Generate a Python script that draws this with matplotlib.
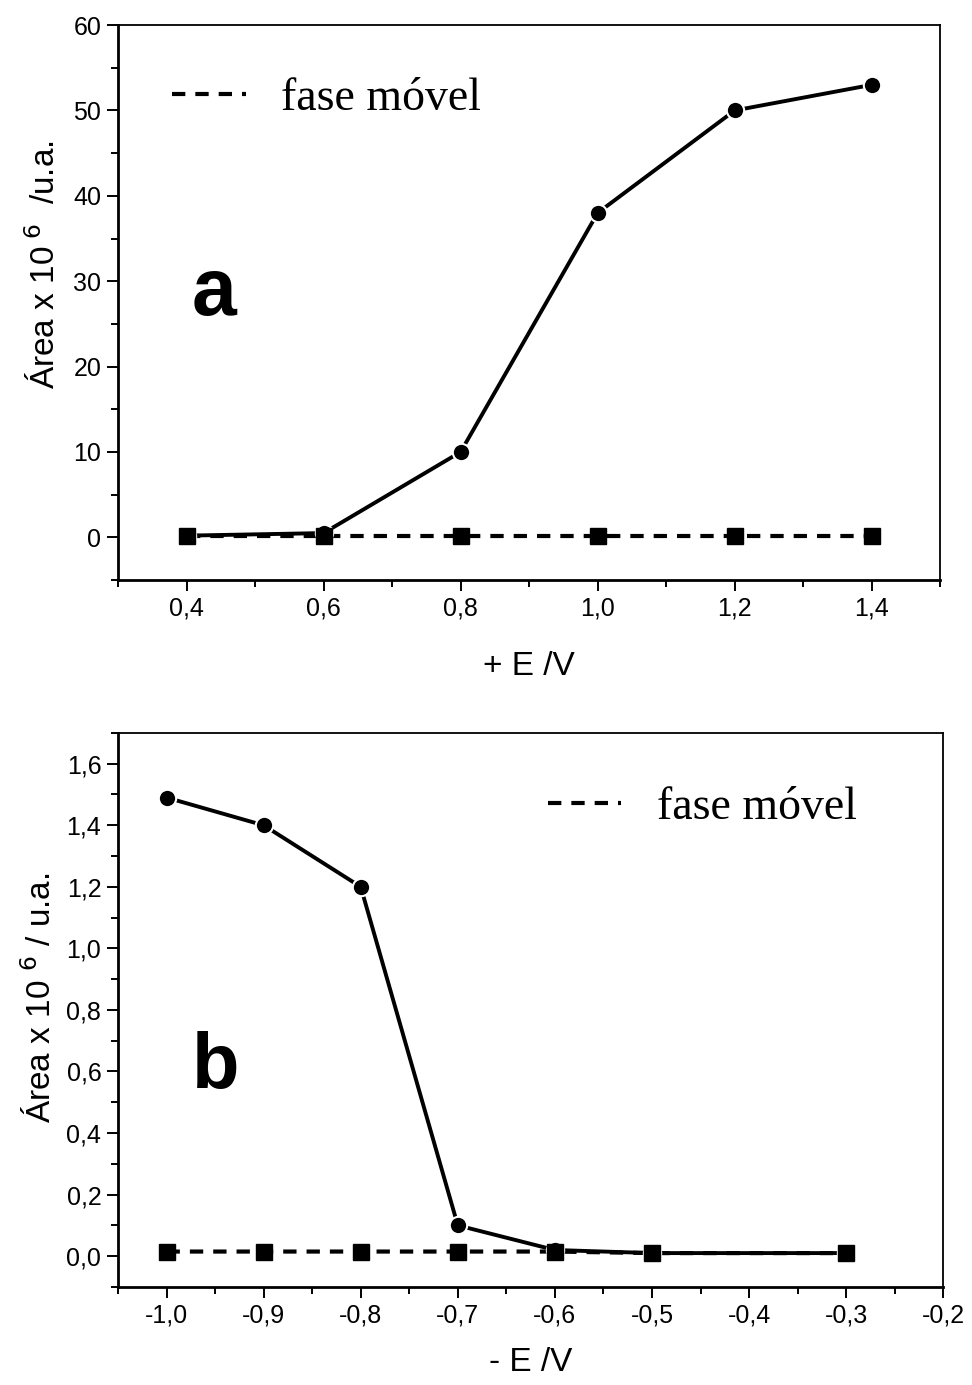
import matplotlib.pyplot as plt
from matplotlib.lines import Line2D
from matplotlib.ticker import MultipleLocator, FuncFormatter

plt.rcParams['font.family'] = ['Liberation Sans', 'DejaVu Sans']

# (a) oxidation potentials
e_pos = [0.4, 0.6, 0.8, 1.0, 1.2, 1.4]
area_pos = [0.2, 0.5, 10.0, 38.0, 50.0, 53.0]
blank_pos = [0.1, 0.1, 0.1, 0.1, 0.1, 0.1]

# (b) reduction potentials
e_neg = [-1.0, -0.9, -0.8, -0.7, -0.6, -0.5, -0.3]
area_neg = [1.49, 1.40, 1.20, 0.10, 0.02, 0.01, 0.01]
blank_neg = [0.015, 0.015, 0.015, 0.015, 0.015, 0.01, 0.01]

DASH = (3.2, 2.4)


def comma(fmt):
    return FuncFormatter(lambda v, pos: fmt.format(v).replace('.', ','))


def style_axes(ax):
    for side in ['left', 'bottom']:
        ax.spines[side].set_linewidth(2.0)
    for side in ['top', 'right']:
        ax.spines[side].set_linewidth(1.3)
    ax.tick_params(which='major', direction='out', length=8, width=1.4,
                   labelsize=18, pad=4)
    ax.tick_params(which='minor', direction='out', length=5, width=1.4)


def draw(ax, x, y, blank, leg_pos):
    # dashed blank line under the sample curve, its squares on top
    ax.plot(x, blank, color='black', lw=3, dashes=DASH, zorder=2)
    ax.plot(x, y, color='black', lw=2.8, marker='o', ms=12.5,
            mfc='black', mec='white', mew=1.5, zorder=3)
    ax.plot(x, blank, ls='none', marker='s', ms=11, mfc='black',
            mec='black', zorder=4)
    leg_line = Line2D([], [], color='black', lw=3, dashes=DASH)
    ax.legend([leg_line], ['fase móvel'], frameon=False, loc='center left',
              bbox_to_anchor=leg_pos, borderpad=0, borderaxespad=0,
              handlelength=1.6, handletextpad=0.77,
              prop={'family': 'Liberation Serif', 'size': 33})


fig = plt.figure(figsize=(9.72, 13.85), dpi=100)

ax1 = fig.add_axes([0.1214, 0.5812, 0.846, 0.4007])
draw(ax1, e_pos, area_pos, blank_pos, (0.066, 0.868))
ax1.set_xlim(0.3, 1.5)
ax1.set_ylim(-5, 60)
ax1.xaxis.set_major_locator(MultipleLocator(0.2))
ax1.xaxis.set_minor_locator(MultipleLocator(0.1))
ax1.yaxis.set_major_locator(MultipleLocator(10))
ax1.yaxis.set_minor_locator(MultipleLocator(5))
ax1.xaxis.set_major_formatter(comma('{:.1f}'))
ax1.yaxis.set_major_formatter(comma('{:.0f}'))
style_axes(ax1)
ax1.set_xlabel('+ E /V', fontsize=24, labelpad=22)
ax1.set_ylabel(r'Área x 10$^{\ 6}$  /u.a.', fontsize=24, labelpad=10)
ax1.yaxis.set_label_coords(-0.068, 0.569)
ax1.text(0.09, 0.477, 'a', transform=ax1.transAxes, fontsize=58,
         fontweight='bold', ha='left', va='baseline')

ax2 = fig.add_axes([0.1214, 0.0708, 0.849, 0.400])
draw(ax2, e_neg, area_neg, blank_neg, (0.521, 0.865))
ax2.set_xlim(-1.05, -0.2)
ax2.set_ylim(-0.1, 1.7)
ax2.xaxis.set_major_locator(MultipleLocator(0.1))
ax2.xaxis.set_minor_locator(MultipleLocator(0.05))
ax2.yaxis.set_major_locator(MultipleLocator(0.2))
ax2.yaxis.set_minor_locator(MultipleLocator(0.1))
ax2.xaxis.set_major_formatter(comma('{:.1f}'))
ax2.yaxis.set_major_formatter(comma('{:.1f}'))
style_axes(ax2)
ax2.set_xlabel('- E /V', fontsize=24, labelpad=14)
ax2.set_ylabel(r'Área x 10 $^{6}$ / u.a.', fontsize=24, labelpad=10)
ax2.yaxis.set_label_coords(-0.073, 0.522)
ax2.text(0.09, 0.359, 'b', transform=ax2.transAxes, fontsize=56,
         fontweight='bold', ha='left', va='baseline')

fig.savefig('out.png', dpi=100)
